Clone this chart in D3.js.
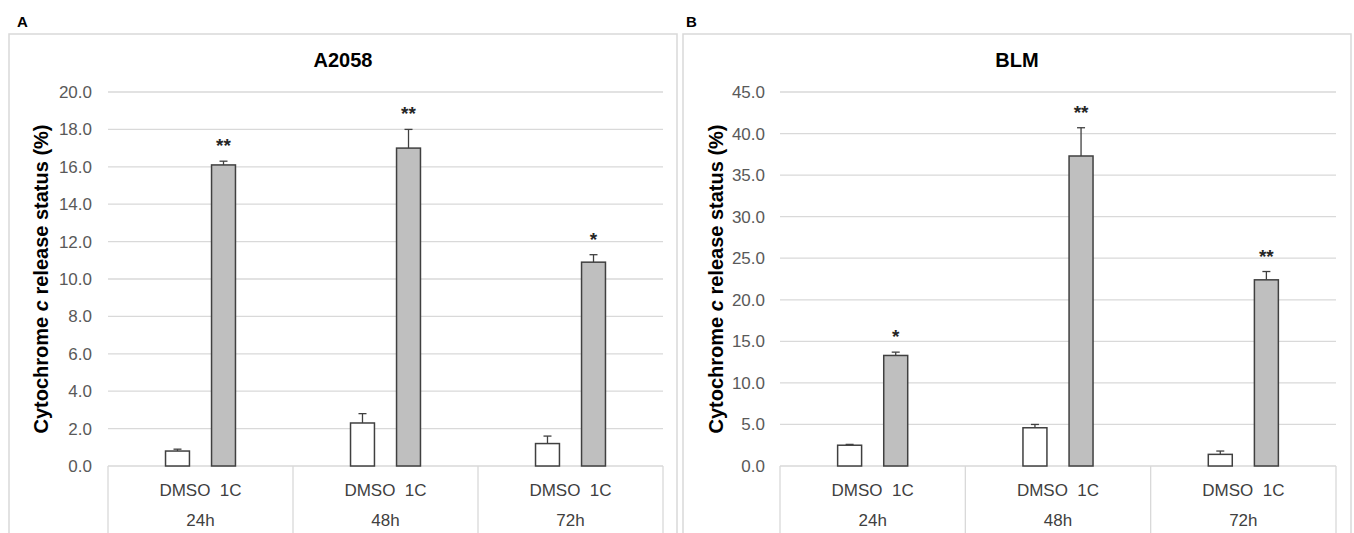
<!DOCTYPE html>
<html>
<head>
<meta charset="utf-8">
<script src="https://cdn.jsdelivr.net/npm/d3@7"></script>
<style>
  body { margin: 0; background: #fff; }
  svg { display: block; font-family: "Liberation Sans", Arial, sans-serif; }
</style>
</head>
<body>
<div id="chart"></div>
<script>
var times = ["24h", "48h", "72h"]
var groups = ["DMSO", "1C"]

// panel A - A2058
var a2058Dmso = [0.8, 2.3, 1.2]
var a2058DmsoErr = [0.1, 0.5, 0.4]
var a2058C1 = [16.1, 17.0, 10.9]
var a2058C1Err = [0.2, 1.0, 0.4]
var a2058Stars = ["**", "**", "*"]
var a2058Ticks = [0, 2, 4, 6, 8, 10, 12, 14, 16, 18, 20]

// panel B - BLM
var blmDmso = [2.5, 4.6, 1.4]
var blmDmsoErr = [0.1, 0.4, 0.4]
var blmC1 = [13.3, 37.3, 22.4]
var blmC1Err = [0.4, 3.4, 1.0]
var blmStars = ["*", "**", "**"]
var blmTicks = [0, 5, 10, 15, 20, 25, 30, 35, 40, 45]

var W = 1354, H = 533
var svg = d3.select("#chart").append("svg").attr("width", W).attr("height", H)

function drawPanel(opt) {
  var g = svg.append("g")

  // panel frame
  g.append("rect")
    .attr("x", opt.left).attr("y", 34)
    .attr("width", opt.right - opt.left).attr("height", H + 10)
    .attr("fill", "none").attr("stroke", "#d9d9d9").attr("stroke-width", 1.5)

  g.append("text")
    .attr("x", opt.left + opt.letterDx).attr("y", 27)
    .attr("font-size", 15).attr("font-weight", "bold")
    .text(opt.letter)

  g.append("text")
    .attr("x", (opt.left + opt.right) / 2).attr("y", 67)
    .attr("text-anchor", "middle")
    .attr("font-size", 20).attr("font-weight", "bold")
    .text(opt.title)

  var y = d3.scaleLinear().domain([0, opt.max]).range([466, 92])
  var x0 = d3.scaleBand().domain(times).range([opt.plotL, opt.plotR])
  var x1 = d3.scaleBand().domain(groups).range([0, x0.bandwidth()])
    .paddingInner(0.48).paddingOuter(1.25)

  // gridlines
  g.selectAll(".grid").data(opt.ticks.slice(1)).enter().append("line")
    .attr("x1", opt.plotL).attr("x2", opt.plotR)
    .attr("y1", d => y(d)).attr("y2", d => y(d))
    .attr("stroke", "#d9d9d9").attr("stroke-width", 1.3)

  // y axis labels
  var yAxis = d3.axisLeft(y).tickValues(opt.ticks).tickFormat(d3.format(".1f")).tickSize(0).tickPadding(0)
  var ya = g.append("g").attr("transform", "translate(" + opt.tickX + ",0)").call(yAxis)
  ya.select(".domain").remove()
  ya.selectAll("text").attr("font-size", 17).attr("fill", "#595959")
    .attr("font-family", "Liberation Sans, Arial, sans-serif")

  // y title
  var yt = g.append("text")
    .attr("transform", "translate(" + opt.titleX + ",279) rotate(-90)")
    .attr("text-anchor", "middle").attr("dy", "0.35em")
    .attr("font-size", 20).attr("font-weight", "bold").attr("fill", "#000")
  yt.append("tspan").text("Cytochrome ")
  yt.append("tspan").attr("font-style", "italic").text("c")
  yt.append("tspan").text(" release status (%)")

  // category axis box
  g.append("line").attr("x1", opt.plotL).attr("x2", opt.plotR)
    .attr("y1", 466).attr("y2", 466).attr("stroke", "#d9d9d9").attr("stroke-width", 1.3)
  var edges = times.map(t => x0(t)).concat([opt.plotR])
  g.selectAll(".div").data(edges).enter().append("line")
    .attr("x1", d => d).attr("x2", d => d)
    .attr("y1", 466).attr("y2", H)
    .attr("stroke", "#d9d9d9").attr("stroke-width", 1.3)

  var rows = times.map((t, i) => ({
    t: t,
    bars: [
      { grp: "DMSO", v: opt.dmso[i], e: opt.dmsoErr[i], fill: "#ffffff" },
      { grp: "1C", v: opt.c1[i], e: opt.c1Err[i], fill: "#bfbfbf", star: opt.stars[i] }
    ]
  }))

  var cat = g.selectAll(".cat").data(rows).enter().append("g")
    .attr("transform", d => "translate(" + x0(d.t) + ",0)")

  cat.append("text")
    .attr("x", x0.bandwidth() / 2).attr("y", 496)
    .attr("text-anchor", "middle").attr("font-size", 17).attr("fill", "#404040")
    .attr("xml:space", "preserve")
    .text(groups.join("  "))
  cat.append("text")
    .attr("x", x0.bandwidth() / 2).attr("y", 526)
    .attr("text-anchor", "middle").attr("font-size", 17).attr("fill", "#404040")
    .text(d => d.t)

  var bar = cat.selectAll(".bar").data(d => d.bars).enter().append("g")

  // error bars (upper only)
  bar.append("line")
    .attr("x1", d => x1(d.grp) + x1.bandwidth() / 2)
    .attr("x2", d => x1(d.grp) + x1.bandwidth() / 2)
    .attr("y1", d => y(d.v)).attr("y2", d => y(d.v + d.e))
    .attr("stroke", "#404040").attr("stroke-width", 1.3)
  bar.append("line")
    .attr("x1", d => x1(d.grp) + x1.bandwidth() / 2 - 4)
    .attr("x2", d => x1(d.grp) + x1.bandwidth() / 2 + 4)
    .attr("y1", d => y(d.v + d.e)).attr("y2", d => y(d.v + d.e))
    .attr("stroke", "#404040").attr("stroke-width", 1.3)

  bar.append("rect")
    .attr("x", d => x1(d.grp)).attr("width", x1.bandwidth())
    .attr("y", d => y(d.v)).attr("height", d => y(0) - y(d.v))
    .attr("fill", d => d.fill).attr("stroke", "#404040").attr("stroke-width", 1.5)

  bar.filter(d => d.star).append("text")
    .attr("x", d => x1(d.grp) + x1.bandwidth() / 2)
    .attr("y", d => y(d.v + d.e) - 9)
    .attr("text-anchor", "middle").attr("font-size", 19).attr("font-weight", "bold")
    .attr("fill", "#262626")
    .text(d => d.star)
}

drawPanel({
  left: 9, right: 677, letter: "A", letterDx: 8, title: "A2058",
  plotL: 108, plotR: 663, tickX: 92, titleX: 41,
  max: 20, ticks: a2058Ticks,
  dmso: a2058Dmso, dmsoErr: a2058DmsoErr, c1: a2058C1, c1Err: a2058C1Err, stars: a2058Stars
})

drawPanel({
  left: 683, right: 1351, letter: "B", letterDx: 3, title: "BLM",
  plotL: 780, plotR: 1336, tickX: 765, titleX: 716,
  max: 45, ticks: blmTicks,
  dmso: blmDmso, dmsoErr: blmDmsoErr, c1: blmC1, c1Err: blmC1Err, stars: blmStars
})
</script>
</body>
</html>
